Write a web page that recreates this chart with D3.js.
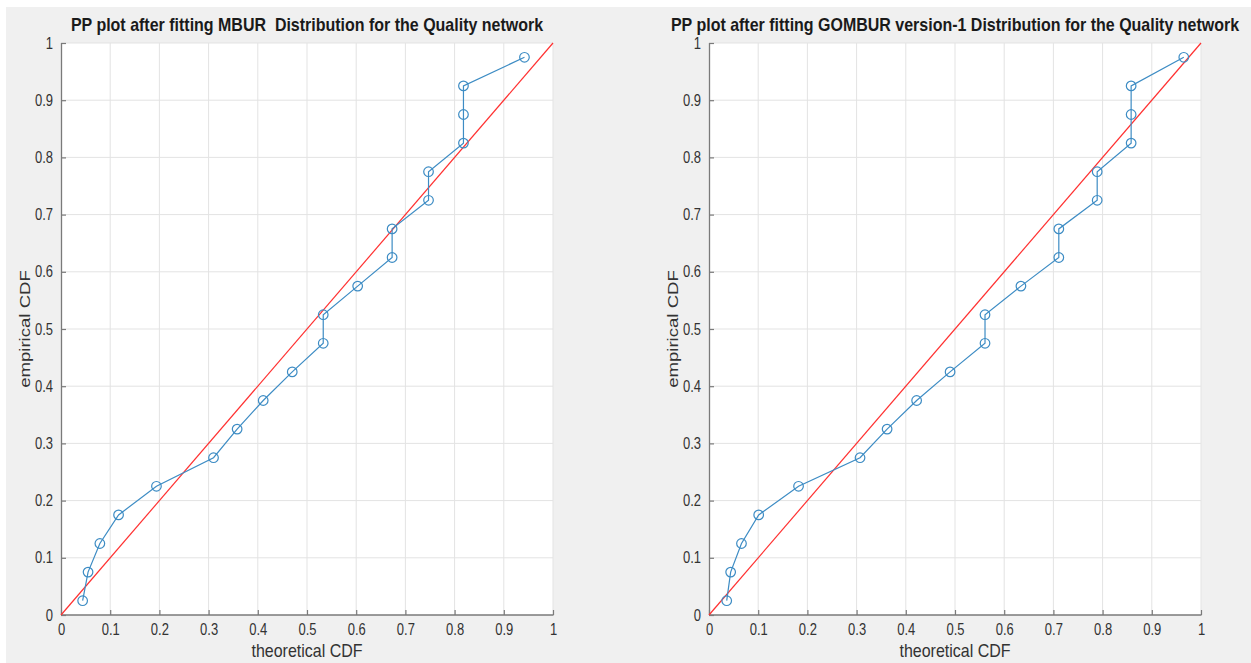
<!DOCTYPE html>
<html>
<head>
<meta charset="utf-8">
<script src="https://cdn.jsdelivr.net/npm/d3@7"></script>
<style>
  body { margin: 0; background: #fff; }
  text { font-family: "Liberation Sans", Arial, sans-serif; }
</style>
</head>
<body>
<div id="chart-area"></div>
<script>
// empirical CDF (same for both fits)
var empirical = [0.025, 0.075, 0.125, 0.175, 0.225, 0.275, 0.325, 0.375, 0.425, 0.475,
                 0.525, 0.575, 0.625, 0.675, 0.725, 0.775, 0.825, 0.875, 0.925, 0.975];

// theoretical CDF, MBUR fit
var theoryMBUR = [0.044, 0.055, 0.079, 0.117, 0.194, 0.310, 0.358, 0.411, 0.470, 0.533,
                  0.533, 0.603, 0.673, 0.673, 0.747, 0.747, 0.818, 0.818, 0.818, 0.942];

// theoretical CDF, GOMBUR version-1 fit
var theoryGOMBUR = [0.036, 0.044, 0.066, 0.101, 0.182, 0.307, 0.362, 0.422, 0.490, 0.561,
                    0.561, 0.634, 0.711, 0.711, 0.789, 0.789, 0.858, 0.858, 0.858, 0.965];

var ticks = [0, 0.1, 0.2, 0.3, 0.4, 0.5, 0.6, 0.7, 0.8, 0.9, 1];

var titles = [
	"PP plot after fitting MBUR\u00a0 Distribution for the Quality network",
	"PP plot after fitting GOMBUR version-1 Distribution for the Quality network"
];

var W = 1251, H = 663;
var stretch = 1.2; // text in the original looks a bit taller than wide

var svg = d3.select("#chart-area").append("svg")
	.attr("width", W)
	.attr("height", H);

// figure background
svg.append("rect")
	.attr("x", 6).attr("y", 7)
	.attr("width", W - 6).attr("height", H - 7)
	.attr("fill", "#f0f0f0");

var lineColor = "#3d8cc4";
var axisColor = "#7a7a7a";

function drawPanel(left, theory, title) {
	var width = 492, height = 572, top = 43;

	var g = svg.append("g")
		.attr("transform", "translate(" + left + ", " + top + ")");

	var x = d3.scaleLinear().domain([0, 1]).range([0, width]);
	var y = d3.scaleLinear().domain([0, 1]).range([height, 0]);

	g.append("rect")
		.attr("width", width).attr("height", height)
		.attr("fill", "#fff");

	// grid
	g.selectAll(".vgrid").data(ticks.slice(1)).enter()
		.append("line")
			.attr("x1", (d) => x(d)).attr("x2", (d) => x(d))
			.attr("y1", 0).attr("y2", height)
			.attr("stroke", "#e3e3e3").attr("stroke-width", 1);
	g.selectAll(".hgrid").data(ticks.slice(1)).enter()
		.append("line")
			.attr("x1", 0).attr("x2", width)
			.attr("y1", (d) => y(d)).attr("y2", (d) => y(d))
			.attr("stroke", "#e3e3e3").attr("stroke-width", 1);

	// axes, ticks inward
	var xAxis = d3.axisBottom(x).tickValues(ticks).tickSize(-5).tickPadding(11)
		.tickFormat((d) => d3.format("")(d));
	var xg = g.append("g")
		.attr("transform", "translate(0, " + height + ")")
		.call(xAxis);

	var yAxis = d3.axisLeft(y).tickValues(ticks).tickSize(-5).tickPadding(8)
		.tickFormat((d) => d3.format("")(d));
	var yg = g.append("g").call(yAxis);

	[xg, yg].forEach((a) => {
		a.select(".domain").attr("stroke", axisColor).attr("stroke-width", 1.3)
			.attr("d", a === xg ? "M0.5,0H" + (width + 0.5) : "M0.5,0V" + height);
		a.selectAll(".tick line").attr("stroke", axisColor).attr("stroke-width", 1.2);
		a.selectAll(".tick text").attr("fill", "#333").attr("font-size", "13px");
	});
	xg.selectAll(".tick text")
		.attr("y", 16.8).attr("dy", 0)
		.attr("transform", "scale(1," + stretch + ")");
	yg.selectAll(".tick text")
		.attr("transform", "scale(1," + stretch + ")");

	// 45 degree reference line
	g.append("line")
		.attr("x1", x(0)).attr("y1", y(0))
		.attr("x2", x(1)).attr("y2", y(1))
		.attr("stroke", "#ff3030").attr("stroke-width", 1.2);

	var pts = theory.map((t, i) => ({ t: t, e: empirical[i] }));

	g.append("path")
		.datum(pts)
		.attr("fill", "none")
		.attr("stroke", lineColor)
		.attr("stroke-width", 1.2)
		.attr("d", d3.line().x((d) => x(d.t)).y((d) => y(d.e)));

	g.selectAll("circle").data(pts).enter()
		.append("circle")
			.attr("cx", (d) => x(d.t))
			.attr("cy", (d) => y(d.e))
			.attr("r", 4.8)
			.attr("fill", "none")
			.attr("stroke", lineColor)
			.attr("stroke-width", 1.2);

	// labels
	g.append("g")
		.attr("transform", "translate(" + (width / 2) + ", " + (height + 42) + ") scale(1," + stretch + ")")
		.append("text")
			.attr("font-size", "16px")
			.attr("fill", "#333")
			.attr("text-anchor", "middle")
			.text("theoretical CDF");

	g.append("g")
		.attr("transform", "translate(-31, " + (height / 2) + ") rotate(-90) scale(" + stretch + ",1)")
		.append("text")
			.attr("font-size", "15.5px")
			.attr("fill", "#333")
			.attr("text-anchor", "middle")
			.text("empirical CDF");

	g.append("g")
		.attr("transform", "translate(" + (width / 2) + ", -12) scale(1," + stretch + ")")
		.append("text")
			.attr("font-size", "16px")
			.attr("font-weight", "bold")
			.attr("fill", "#1a1a1a")
			.attr("text-anchor", "middle")
			.text(title);
}

drawPanel(61, theoryMBUR, titles[0]);
drawPanel(709, theoryGOMBUR, titles[1]);
</script>
</body>
</html>
